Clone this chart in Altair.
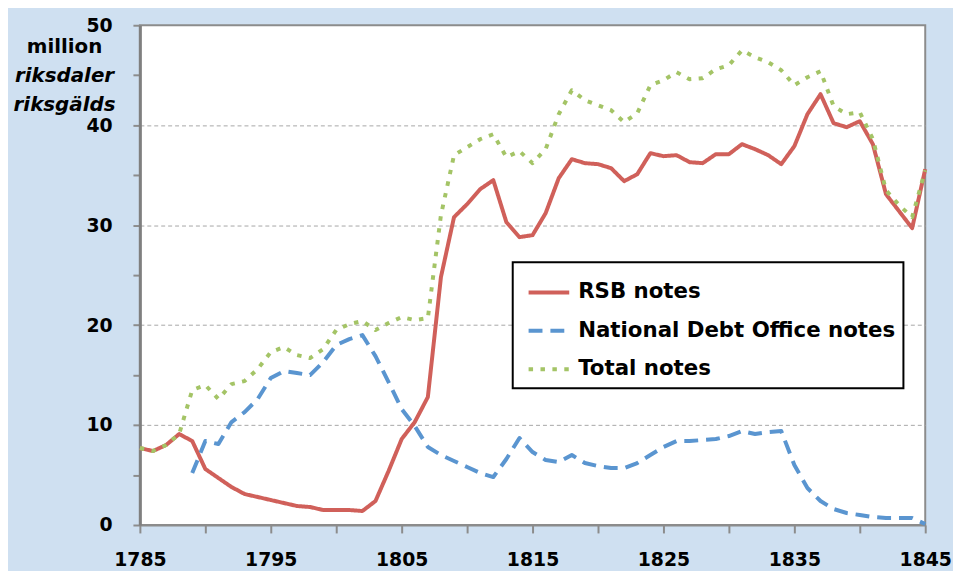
import altair as alt
import pandas as pd

years = list(range(1785, 1846))

rsb = [7.7, 7.4, 8.0, 9.1, 8.4, 5.6, 4.7, 3.8, 3.1, 2.8,
       2.5, 2.2, 1.9, 1.8, 1.5, 1.5, 1.5, 1.4, 2.4, 5.4,
       8.6, 10.3, 12.8, 24.8, 30.8, 32.1, 33.6, 34.5, 30.3, 28.8,
       29.0, 31.2, 34.7, 36.6, 36.2, 36.1, 35.7, 34.4, 35.1, 37.2,
       36.9, 37.0, 36.3, 36.2, 37.1, 37.1, 38.1, 37.6, 37.0, 36.1,
       37.9, 41.1, 43.1, 40.2, 39.8, 40.4, 38.1, 33.1, 31.4, 29.7, 35.6]

ndo_years = list(range(1789, 1846))
ndo = [5.2, 8.4, 8.1, 10.3, 11.3, 12.6, 14.7, 15.4, 15.2, 15.0,
       16.3, 18.0, 18.6, 19.0, 16.9, 14.3, 11.6, 9.9, 7.8, 7.0,
       6.4, 5.8, 5.2, 4.8, 6.6, 8.7, 7.3, 6.5, 6.3, 7.0,
       6.2, 5.9, 5.7, 5.7, 6.2, 7.0, 7.8, 8.4, 8.4, 8.5,
       8.6, 8.9, 9.4, 9.1, 9.3, 9.4, 6.0, 3.7, 2.4, 1.6,
       1.2, 1.0, 0.8, 0.7, 0.7, 0.7, 0.1]

total = [7.7, 7.4, 8.0, 9.1, 13.5, 14.0, 12.6, 14.1, 14.4, 15.6,
         17.3, 17.8, 17.0, 16.7, 17.6, 19.5, 20.1, 20.4, 19.5, 20.2,
         20.8, 20.5, 20.7, 31.0, 37.0, 37.8, 38.6, 39.1, 36.8, 37.4,
         36.2, 37.6, 41.1, 43.5, 42.5, 42.0, 41.5, 40.3, 41.2, 44.0,
         44.5, 45.3, 44.6, 44.7, 45.6, 46.0, 47.5, 46.8, 46.3, 45.5,
         44.0, 44.8, 45.4, 41.9, 41.1, 41.3, 38.6, 33.5, 32.0, 30.8, 35.5]

series_names = ["RSB notes", "National Debt Office notes", "Total notes"]
series_colors = ["#d0605a", "#5a95d0", "#a4c466"]
series_dashes = [[1, 0], [14, 8], [4.5, 7.5]]
series_widths = [4, 4, 5]

x_ticks = list(range(1785, 1846, 5))
y_ticks = list(range(0, 51, 5))
title_lines = ["million", "riksdaler", "riksgälds"]
title_styles = ["normal", "italic", "italic"]

rows = []
for y, v in zip(years, rsb):
    rows.append({"year": y, "value": v, "series": series_names[0]})
for y, v in zip(ndo_years, ndo):
    rows.append({"year": y, "value": v, "series": series_names[1]})
for y, v in zip(years, total):
    rows.append({"year": y, "value": v, "series": series_names[2]})
df = pd.DataFrame(rows)

FONT = "DejaVu Sans"

legend = alt.Legend(title=None, orient="none", legendX=376, legendY=239)

lines = alt.Chart(df).mark_line(strokeCap="butt", strokeJoin="round").encode(
    x=alt.X("year:Q",
            scale=alt.Scale(domain=[1785, 1845], nice=False, zero=False),
            axis=alt.Axis(values=x_ticks, format="d", title=None, grid=False,
                          labelExpr="(datum.value - 1785) % 10 == 0 ? datum.label : ''",
                          tickSize=8, tickWidth=2, tickColor="#8c8c8c",
                          domainColor="#8c8c8c", domainWidth=2,
                          labelPadding=18, labelFont=FONT, labelFontSize=19,
                          labelFontWeight="bold", labelColor="black",
                          labelFlush=False, labelOverlap=False)),
    y=alt.Y("value:Q",
            scale=alt.Scale(domain=[0, 50], nice=False),
            axis=alt.Axis(values=y_ticks, title=None,
                          labelExpr="datum.value % 10 == 0 ? datum.label : ''",
                          grid=True, gridColor="#a6a6a6", gridDash=[4, 3], gridWidth=1,
                          gridOpacity={"condition": {"test": "datum.value % 10 == 0 && datum.value > 0 && datum.value < 50", "value": 1}, "value": 0},
                          tickSize=7, tickWidth=2, tickColor="#8c8c8c",
                          domainColor="#7f7f7f", domainWidth=3,
                          labelPadding=21, labelFont=FONT, labelFontSize=19,
                          labelFontWeight="bold", labelColor="black",
                          labelOverlap=False)),
    color=alt.Color("series:N",
                    scale=alt.Scale(domain=series_names, range=series_colors),
                    legend=legend),
    strokeDash=alt.StrokeDash("series:N",
                              scale=alt.Scale(domain=series_names, range=series_dashes),
                              legend=legend),
    strokeWidth=alt.StrokeWidth("series:N",
                                scale=alt.Scale(domain=series_names, range=series_widths),
                                legend=None),
)

text_layers = []
for i, (t, s) in enumerate(zip(title_lines, title_styles)):
    text_layers.append(
        alt.Chart(pd.DataFrame({"t": [t]})).mark_text(
            font=FONT, fontSize=20, fontWeight="bold", fontStyle=s,
            align="center", baseline="alphabetic", color="black"
        ).encode(text="t:N", x=alt.value(-76), y=alt.value([28, 57, 86][i]))
    )

chart = alt.layer(lines, *text_layers).properties(
    width=792, height=504,
    padding={"left": 133, "top": 15, "right": 28, "bottom": 44},
    autosize=alt.AutoSizeParams(type="none"),
    background="#cfe0f1",
).configure_view(
    fill="white", stroke="#8c8c8c", strokeWidth=2
).configure_legend(
    fillColor="white", strokeColor="black", strokeWidth=2,
    padding=8, rowPadding=5.7, symbolOffset=6,
    symbolType="stroke", symbolSize=1681, symbolStrokeWidth=4.5,
    labelFont=FONT, labelFontSize=21.5, labelFontWeight="bold",
    labelColor="black", labelOffset=7, labelLimit=500,
)

chart.save("out.html", embed_options={"renderer": "svg", "actions": False})
